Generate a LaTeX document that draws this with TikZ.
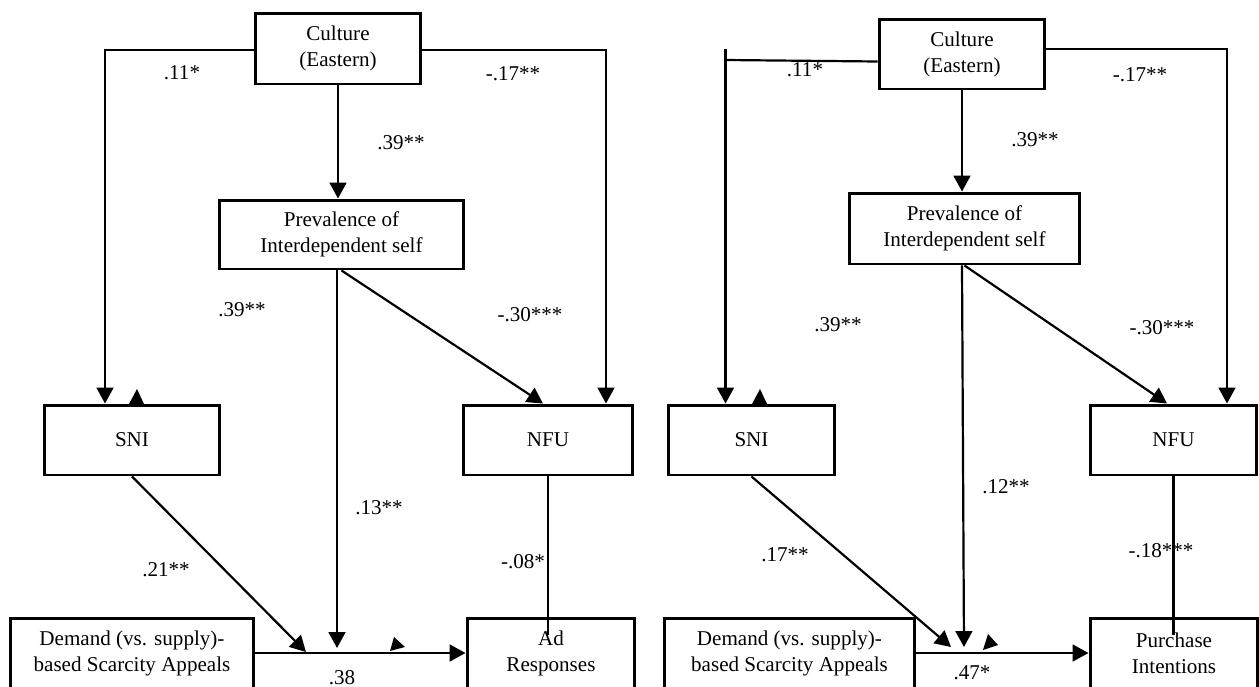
\documentclass[tikz,border=0pt]{standalone}
\usepackage{fontspec}
\setmainfont{Liberation Serif}
\usetikzlibrary{arrows.meta}

\begin{document}
\begin{tikzpicture}[x=0.02cm,y=-0.02cm,
    font=\fontsize{12}{14.8}\selectfont,
    box/.style={draw,line width=1.7pt,align=center,inner sep=1pt,minimum height=1.4cm},
    conn/.style={line width=1.25pt},
    arr/.style={conn,-{Triangle[length=9pt,width=9.5pt]}},
    lbl/.style={inner sep=0pt}]
  \useasboundingbox (0,0) rectangle (1259,687);
  \clip (0,0) rectangle (1259,687);

  % left model: ad responses
  \node[box,minimum width=3.32cm,minimum height=1.42cm] (cult1) at (338,48.5) {Culture\\(Eastern)};
  \node[box,minimum width=4.9cm,minimum height=1.38cm] (prev1) at (341.5,234.5) {Prevalence of\\Interdependent self};
  \node[box,minimum width=3.5cm] (sni1) at (132,440) {SNI};
  \node[box,minimum width=3.4cm] (nfu1) at (548,440) {NFU};
  \node[box,minimum width=4.88cm] (dem1) at (132,653) {Demand (vs. supply)-\\based Scarcity Appeals};
  \node[box,minimum width=3.36cm] (ad1) at (551,653) {Ad\\Responses};

  \coordinate (l1) at (105,50);
  \coordinate (r1) at (606,50);
  \coordinate (m1) at (337,648);
  \coordinate (s1) at (306,652);
  \coordinate (n1) at (548,635);

  \draw[arr] (cult1.west |- l1) -- (l1) -- (l1 |- sni1.north);
  \draw[arr] (cult1.east |- r1) -- (r1) -- (r1 |- nfu1.north);
  \draw[arr] (cult1.south) -- (cult1.south |- prev1.north);
  \draw[arr] (prev1.south -| m1) -- (m1);
  \draw[arr] (prev1.south) -- ([xshift=-0.1cm]nfu1.north);
  \draw[arr] (sni1.south) -- (s1);
  \draw[conn] (nfu1.south) -- (n1);
  \draw[arr] (dem1.east) -- (ad1.west);
  \fill (129,404) -- (137,389) -- (144,404) -- cycle;
  \fill (390,651) -- (405,647) -- (394,637) -- cycle;

  \node[lbl] (a11) at (182,73) {.11*};
  \node[lbl] (a17) at (513,74) {-.17**};
  \node[lbl] (a39) at (401,143) {.39**};
  \node[lbl] (b39) at (242,310) {.39**};
  \node[lbl] (a30) at (530,315) {-.30***};
  \node[lbl] (a13) at (379,508) {.13**};
  \node[lbl] (a21) at (166,570) {.21**};
  \node[lbl] (a08) at (523,562) {-.08*};
  \node[lbl] (a38) at (342,678) {.38};

  % right model: purchase intentions
  \node[box,minimum width=3.32cm] (cult2) at (962,54) {Culture\\(Eastern)};
  \node[box,minimum width=4.62cm,minimum height=1.42cm] (prev2) at (964.5,228.5) {Prevalence of\\Interdependent self};
  \node[box,minimum width=3.34cm] (sni2) at (751.5,440) {SNI};
  \node[box,minimum width=3.34cm] (nfu2) at (1173.5,440) {NFU};
  \node[box,minimum width=5.02cm] (dem2) at (789.5,653) {Demand (vs. supply)-\\based Scarcity Appeals};
  \node[box,minimum width=3.36cm] (pi2) at (1174,653) {Purchase\\Intentions};

  \coordinate (l2) at (725.5,60);
  \coordinate (t2) at (725.5,49);
  \coordinate (r2) at (1227,49);
  \coordinate (m2) at (964,647);
  \coordinate (s2) at (951,647);
  \coordinate (n2) at (1173.5,635);

  \draw[conn] ([yshift=-0.15cm]cult2.west) -- (l2);
  \draw[arr] (t2) -- (t2 |- sni2.north);
  \draw[arr] (cult2.east |- r2) -- (r2) -- (r2 |- nfu2.north);
  \draw[arr] (cult2.south) -- (cult2.south |- prev2.north);
  \draw[arr] (prev2.south -| cult2) -- (m2);
  \draw[arr] (prev2.south) -- ([xshift=-0.13cm]nfu2.north);
  \draw[arr] (sni2.south) -- (s2);
  \draw[conn] (nfu2.south) -- (n2);
  \draw[arr] (dem2.east) -- (pi2.west);
  \fill (752,404) -- (760,389) -- (767,404) -- cycle;
  \fill (983,650) -- (998,645) -- (988,634) -- cycle;

  \node[lbl] (c11) at (805,70) {.11*};
  \node[lbl] (c17) at (1140,75) {-.17**};
  \node[lbl] (c39) at (1035,140) {.39**};
  \node[lbl] (d39) at (838,325) {.39**};
  \node[lbl] (c30) at (1162,328) {-.30***};
  \node[lbl] (c12) at (1006,487) {.12**};
  \node[lbl] (c17b) at (785,555) {.17**};
  \node[lbl] (c18) at (1161,551) {-.18***};
  \node[lbl] (c47) at (972,673) {.47*};
\end{tikzpicture}
\end{document}
